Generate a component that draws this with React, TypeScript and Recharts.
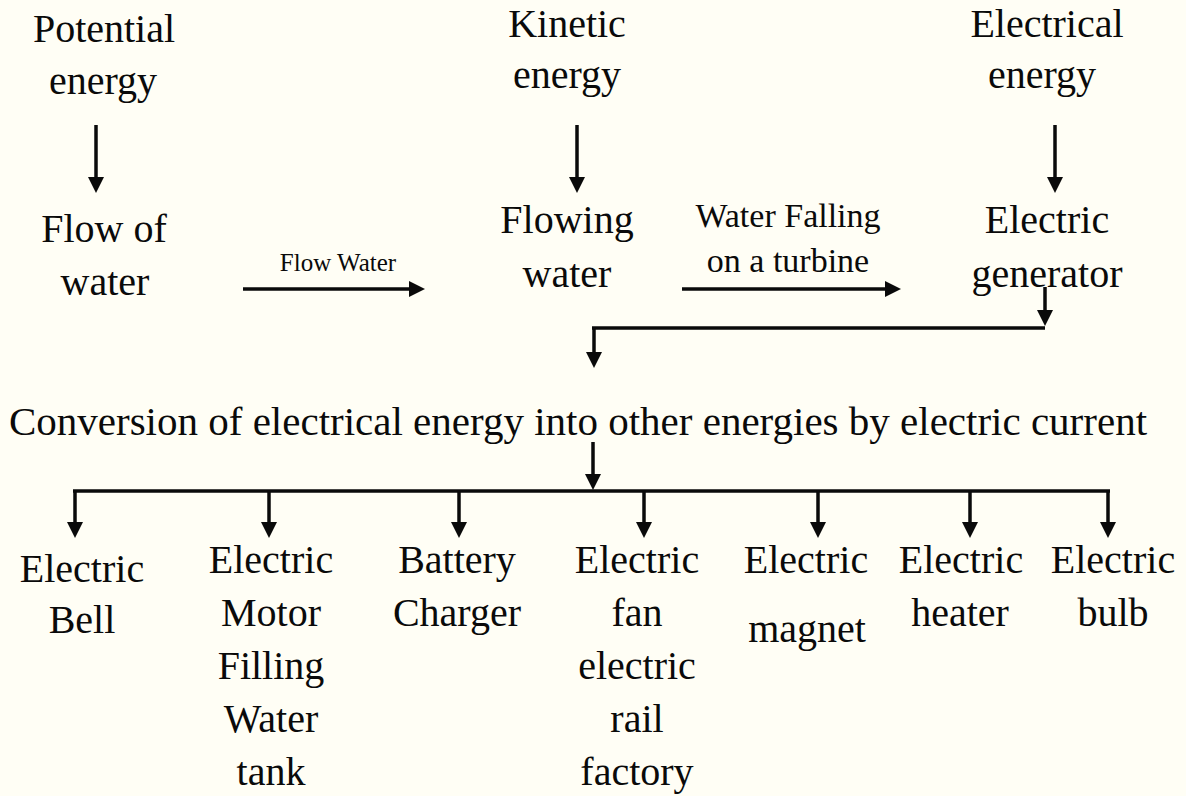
import React from "react";
import { ScatterChart, Scatter, XAxis, YAxis, ReferenceLine } from "recharts";

const WIDTH = 1186;
const HEIGHT = 796;

// Energy forms along the top row
const energyForms = [
  { text: "Potential", x: 104, y: 42 },
  { text: "energy", x: 103, y: 94 },
  { text: "Kinetic", x: 567, y: 37 },
  { text: "energy", x: 567, y: 88 },
  { text: "Electrical", x: 1047, y: 37 },
  { text: "energy", x: 1042, y: 88 },
];

// Stages of the process
const stages = [
  { text: "Flow of", x: 104, y: 242 },
  { text: "water", x: 105, y: 295 },
  { text: "Flowing", x: 567, y: 233 },
  { text: "water", x: 567, y: 287 },
  { text: "Electric", x: 1047, y: 233 },
  { text: "generator", x: 1047, y: 287 },
];

const flowNote = [{ text: "Flow Water", x: 338, y: 271 }];

const turbineNote = [
  { text: "Water Falling", x: 788, y: 227 },
  { text: "on a turbine", x: 788, y: 272 },
];

const headline = [
  {
    text: "Conversion of electrical energy into other energies by electric current",
    x: 578,
    y: 435,
  },
];

// Uses of electric current, one entry per line of text
const uses = [
  { text: "Electric", x: 82, y: 582 },
  { text: "Bell", x: 82, y: 633 },
  { text: "Electric", x: 271, y: 573 },
  { text: "Motor", x: 271, y: 626 },
  { text: "Filling", x: 271, y: 679 },
  { text: "Water", x: 271, y: 732 },
  { text: "tank", x: 271, y: 785 },
  { text: "Battery", x: 457, y: 573 },
  { text: "Charger", x: 457, y: 626 },
  { text: "Electric", x: 637, y: 573 },
  { text: "fan", x: 637, y: 626 },
  { text: "electric", x: 637, y: 679 },
  { text: "rail", x: 637, y: 732 },
  { text: "factory", x: 637, y: 785 },
  { text: "Electric", x: 806, y: 573 },
  { text: "magnet", x: 807, y: 642 },
  { text: "Electric", x: 961, y: 573 },
  { text: "heater", x: 960, y: 626 },
  { text: "Electric", x: 1113, y: 573 },
  { text: "bulb", x: 1113, y: 626 },
];

// Branch positions on the distribution bar
const branchX = [75, 269, 459, 644, 818, 970, 1108];
const barY = 491;
const branchTipY = 538;

// Arrows: from start to tip
const arrows = [
  { x1: 96, y1: 125, x2: 96, y2: 193 },
  { x1: 577, y1: 125, x2: 577, y2: 193 },
  { x1: 1055, y1: 125, x2: 1055, y2: 193 },
  { x1: 243, y1: 289, x2: 425, y2: 289 },
  { x1: 682, y1: 289, x2: 901, y2: 289 },
  { x1: 1045, y1: 287, x2: 1045, y2: 326 },
  { x1: 594, y1: 328, x2: 594, y2: 368 },
  { x1: 593, y1: 442, x2: 593, y2: 490 },
  ...branchX.map((x) => ({ x1: x, y1: barY, x2: x, y2: branchTipY })),
];

// Plain connector lines
const connectors = [
  { x1: 1045, y1: 328, x2: 592, y2: 328 },
  { x1: 73, y1: barY, x2: 1110, y2: barY },
];

const FONT = "'Liberation Serif', 'Times New Roman', serif";
const INK = "#0a0a0a";
const HEAD = 16;

const makeText = (size: number) => (props: any) => {
  const { cx, cy, payload } = props;
  return (
    <text
      x={cx}
      y={cy}
      textAnchor="middle"
      fontFamily={FONT}
      fontSize={size}
      fill={INK}
    >
      {payload.text}
    </text>
  );
};

const ArrowHead = (props: any) => {
  const { cx, cy, payload } = props;
  const pts =
    payload.dir === "down"
      ? `${cx - 8},${cy - HEAD} ${cx + 8},${cy - HEAD} ${cx},${cy}`
      : `${cx - HEAD},${cy - 8} ${cx - HEAD},${cy + 8} ${cx},${cy}`;
  return <polygon points={pts} fill={INK} />;
};

export default function App() {
  const heads = arrows.map((a) => ({
    x: a.x2,
    y: a.y2,
    dir: a.x1 === a.x2 ? "down" : "right",
  }));
  const shafts = arrows.map((a) =>
    a.x1 === a.x2
      ? { x1: a.x1, y1: a.y1, x2: a.x2, y2: a.y2 - HEAD + 4 }
      : { x1: a.x1, y1: a.y1, x2: a.x2 - HEAD + 4, y2: a.y2 }
  );

  return (
    <div
      style={{
        position: "absolute",
        left: 0,
        top: 0,
        width: WIDTH,
        height: HEIGHT,
        background: "#FFFEF5",
      }}
    >
      <ScatterChart
        width={WIDTH}
        height={HEIGHT}
        margin={{ top: 0, right: 0, bottom: 0, left: 0 }}
      >
        <XAxis type="number" dataKey="x" domain={[0, WIDTH]} hide />
        <YAxis type="number" dataKey="y" domain={[0, HEIGHT]} reversed hide width={0} />
        {[...connectors, ...shafts].map((s, i) => (
          <ReferenceLine
            key={i}
            segment={[
              { x: s.x1, y: s.y1 },
              { x: s.x2, y: s.y2 },
            ]}
            stroke={INK}
            strokeWidth={3.5}
            ifOverflow="visible"
          />
        ))}
        <Scatter data={heads} shape={ArrowHead} isAnimationActive={false} />
        <Scatter data={energyForms} shape={makeText(40)} isAnimationActive={false} />
        <Scatter data={stages} shape={makeText(40)} isAnimationActive={false} />
        <Scatter data={flowNote} shape={makeText(25)} isAnimationActive={false} />
        <Scatter data={turbineNote} shape={makeText(34)} isAnimationActive={false} />
        <Scatter data={headline} shape={makeText(41)} isAnimationActive={false} />
        <Scatter data={uses} shape={makeText(40)} isAnimationActive={false} />
      </ScatterChart>
    </div>
  );
}
